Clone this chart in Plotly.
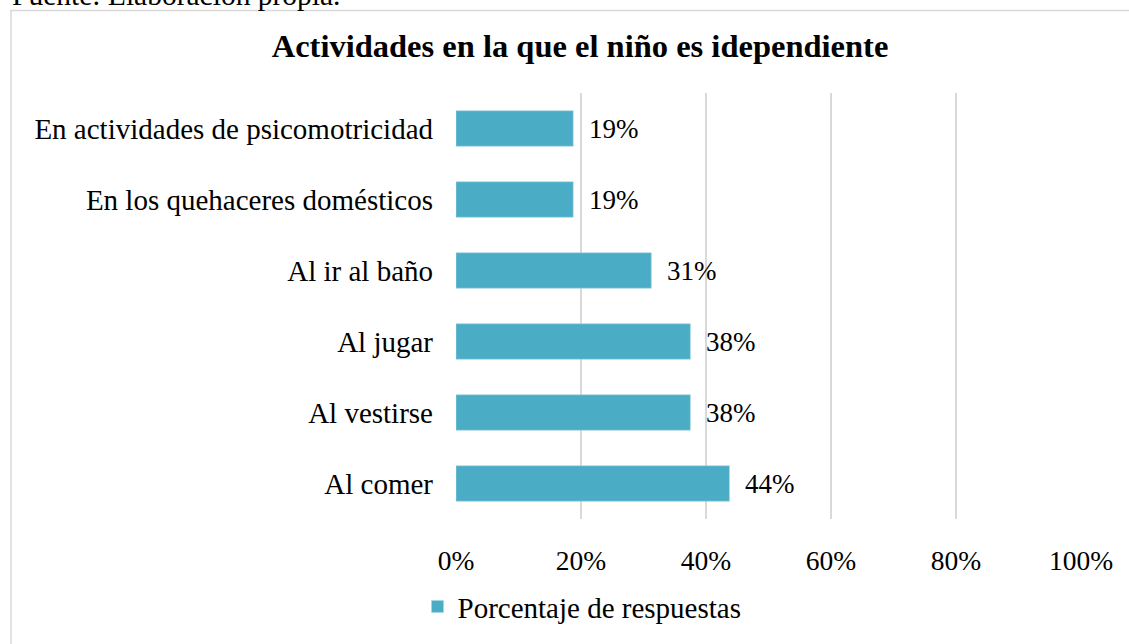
import plotly.graph_objects as go

# Datos (de arriba hacia abajo)
actividades = [
    "En actividades de psicomotricidad",
    "En los quehaceres domésticos",
    "Al ir al baño",
    "Al jugar",
    "Al vestirse",
    "Al comer",
]
porcentajes = [18.75, 18.75, 31.25, 37.5, 37.5, 43.75]
ticks_x = [0, 20, 40, 60, 80, 100]
etiquetas_x = ["0%", "20%", "40%", "60%", "80%", "100%"]

SERIE = "Porcentaje de respuestas"
TITULO = "Actividades en la que el niño es idependiente"
FUENTE = "Fuente: Elaboración propia."

FONT = "Liberation Serif, Times New Roman, serif"
AZUL = "#4BACC6"
GRIS = "#D9D9D9"

W, H = 1129, 644
# área de trazado en píxeles de la imagen de referencia
X0, X1, Y0, Y1 = 456, 1081, 93, 521
plot_w = X1 - X0
plot_h = Y1 - Y0


def px_x(x):
    return (x - X0) / plot_w


def px_y(y):
    return (Y1 - y) / plot_h


fig = go.Figure(
    go.Bar(
        x=porcentajes,
        y=actividades,
        orientation="h",
        name=SERIE,
        marker=dict(color=AZUL, line=dict(color="#A9D6E2", width=0.6)),
        width=0.5,
        showlegend=True,
    )
)

for act, val in zip(actividades, porcentajes):
    fig.add_annotation(
        x=val, y=act, xref="x", yref="y",
        text=f"{val:.0f}%", showarrow=False,
        xanchor="left", xshift=14,
        font=dict(family=FONT, size=27, color="#000000"),
    )

# texto de la fuente, cortado por el borde superior como en el original
fig.add_annotation(
    x=px_x(10), y=px_y(13), xref="paper", yref="paper",
    text=FUENTE, showarrow=False, xanchor="left", yanchor="bottom",
    font=dict(family=FONT, size=29.5, color="#000000"),
)

fig.add_shape(
    type="rect", xref="paper", yref="paper",
    x0=px_x(11), x1=px_x(1160), y0=px_y(10), y1=px_y(680),
    line=dict(color=GRIS, width=1.5), fillcolor="rgba(0,0,0,0)",
    layer="below",
)

fig.update_layout(
    width=W,
    height=H,
    margin=dict(l=X0, r=W - X1, t=Y0, b=H - Y1),
    paper_bgcolor="white",
    plot_bgcolor="white",
    title=dict(
        text=f"<b>{TITULO}</b>",
        x=580 / W, xanchor="center",
        y=1 - 46 / H, yanchor="middle",
        font=dict(family=FONT, size=32.5, color="#000000"),
    ),
    xaxis=dict(
        range=[0, 100],
        tickvals=ticks_x,
        ticktext=etiquetas_x,
        showgrid=True,
        gridcolor=GRIS,
        gridwidth=1.5,
        zeroline=False,
        showline=False,
        ticks="",
        ticklabelstandoff=22,
        tickfont=dict(family=FONT, size=27.5, color="#000000"),
    ),
    yaxis=dict(
        autorange="reversed",
        showgrid=False,
        zeroline=False,
        showline=False,
        ticks="",
        ticklabelstandoff=22,
        tickfont=dict(family=FONT, size=29, color="#000000"),
    ),
    legend=dict(
        orientation="h",
        x=px_x(582), xanchor="center",
        y=px_y(609), yanchor="middle",
        font=dict(family=FONT, size=29, color="#000000"),
        itemwidth=30,
    ),
)

fig.write_html(
    "out.html",
    config={"displayModeBar": False},
    post_script="document.body.style.margin='0';",
)
